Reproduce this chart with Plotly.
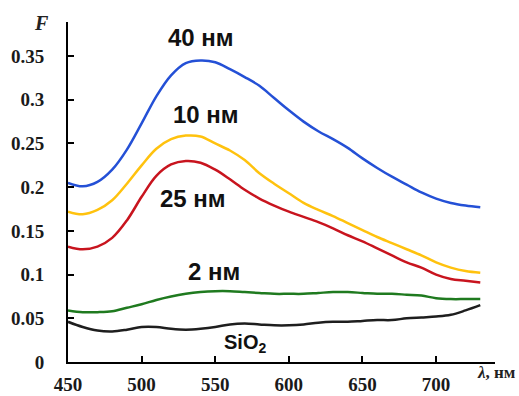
import plotly.graph_objects as go

wavelength = [450, 460, 470, 480, 490, 500, 510, 520, 530, 540, 550, 560, 570, 580, 590,
              600, 610, 620, 630, 640, 650, 660, 670, 680, 690, 700, 710, 720, 730]

f_40nm = [0.205, 0.201, 0.206, 0.220, 0.243, 0.273, 0.304, 0.328, 0.342, 0.345, 0.343, 0.335,
          0.326, 0.316, 0.302, 0.288, 0.275, 0.264, 0.255, 0.245, 0.233, 0.222, 0.212, 0.203,
          0.194, 0.187, 0.182, 0.179, 0.177]
f_10nm = [0.172, 0.169, 0.174, 0.185, 0.204, 0.225, 0.244, 0.255, 0.259, 0.258, 0.250, 0.242,
          0.231, 0.216, 0.204, 0.193, 0.182, 0.174, 0.167, 0.159, 0.151, 0.143, 0.136, 0.129,
          0.122, 0.114, 0.108, 0.104, 0.102]
f_25nm = [0.132, 0.129, 0.132, 0.142, 0.162, 0.189, 0.213, 0.226, 0.230, 0.228, 0.220, 0.209,
          0.197, 0.187, 0.179, 0.172, 0.166, 0.160, 0.153, 0.145, 0.138, 0.130, 0.122, 0.114,
          0.108, 0.100, 0.095, 0.093, 0.091]
f_2nm = [0.059, 0.057, 0.057, 0.058, 0.062, 0.066, 0.071, 0.075, 0.078, 0.080, 0.081, 0.081,
         0.080, 0.079, 0.078, 0.078, 0.078, 0.079, 0.080, 0.080, 0.079, 0.078, 0.078, 0.077,
         0.076, 0.073, 0.072, 0.072, 0.072]
f_sio2 = [0.046, 0.040, 0.036, 0.035, 0.037, 0.040, 0.040, 0.038, 0.037, 0.038, 0.040, 0.043,
          0.044, 0.043, 0.042, 0.042, 0.043, 0.045, 0.046, 0.046, 0.047, 0.048, 0.048, 0.050,
          0.051, 0.052, 0.054, 0.059, 0.065]

series_names = ["40 нм", "10 нм", "25 нм", "2 нм", "SiO<sub>2</sub>"]
series_values = [f_40nm, f_10nm, f_25nm, f_2nm, f_sio2]
series_colors = ["#2450d6", "#ffc20e", "#c8141e", "#1f7a1f", "#1e1e1e"]
# label anchor points (wavelength, F)
label_x = [540, 543.5, 534.7, 549, 570]
label_y = [0.371, 0.283, 0.1865, 0.103, 0.0217]
label_sizes = [24, 24, 24, 24, 20]

x_ticks = [450, 500, 550, 600, 650, 700]
y_ticks = [0, 0.05, 0.1, 0.15, 0.2, 0.25, 0.3, 0.35]
y_tick_text = ["0", "0.05", "0.1", "0.15", "0.2", "0.25", "0.3", "0.35"]

fig = go.Figure()
for name, vals, col in zip(series_names, series_values, series_colors):
    fig.add_trace(go.Scatter(x=wavelength, y=vals, mode="lines", name=name,
                             line=dict(color=col, width=2.5, shape="spline", smoothing=1.0)))

for name, lx, ly, sz in zip(series_names, label_x, label_y, label_sizes):
    fig.add_annotation(x=lx, y=ly, text="<b>" + name + "</b>", showarrow=False,
                       font=dict(family="Liberation Sans, Arial", size=sz, color="#111111"),
                       xanchor="center", yanchor="middle")

fig.add_annotation(xref="paper", yref="paper", x=-0.063, y=0.997, text="<b><i>F</i></b>",
                   showarrow=False, xanchor="center", yanchor="middle",
                   font=dict(family="Liberation Serif", size=20, color="#222222"))
fig.add_annotation(xref="paper", yref="paper", x=1.054, y=-0.032, text="<b><i>λ</i>, нм</b>",
                   showarrow=False, xanchor="right", yanchor="middle",
                   font=dict(family="Liberation Serif", size=17, color="#222222"))

axis_font = dict(family="Liberation Serif", size=19, color="#1a1a1a", weight="bold")
fig.update_layout(
    width=519, height=396,
    margin=dict(l=68, r=24, t=22, b=34, autoexpand=False),
    paper_bgcolor="white", plot_bgcolor="white",
    showlegend=False,
    xaxis=dict(range=[450, 740], tickvals=x_ticks, showgrid=False, zeroline=False,
               showline=True, linecolor="black", linewidth=2, automargin=False,
               ticks="inside", ticklen=6, tickwidth=2, tickcolor="black",
               tickfont=axis_font, ticklabelstandoff=4),
    yaxis=dict(range=[0, 0.389], tickvals=y_ticks, ticktext=y_tick_text, showgrid=False,
               zeroline=False, showline=True, linecolor="black", linewidth=2, automargin=False,
               ticks="inside", ticklen=6, tickwidth=2, tickcolor="black",
               tickfont=axis_font, ticklabelstandoff=18),
)

fig.write_html("out.html", config={"displayModeBar": False},
               post_script="document.body.style.margin='0';document.body.style.overflow='hidden';")
